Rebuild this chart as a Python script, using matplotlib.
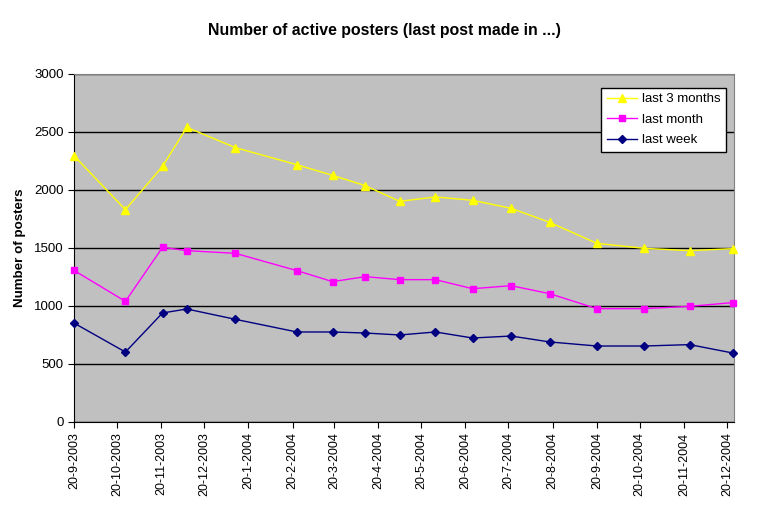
import datetime as dt
import matplotlib
matplotlib.use("Agg")
import matplotlib.pyplot as plt

plt.rcParams['font.family'] = ['Liberation Sans', 'DejaVu Sans']

# dates of the samples
dates = ["2003-09-20", "2003-10-26", "2003-11-21", "2003-12-08", "2004-01-11",
         "2004-02-23", "2004-03-19", "2004-04-11", "2004-05-05", "2004-05-30",
         "2004-06-25", "2004-07-22", "2004-08-18", "2004-09-20", "2004-10-23",
         "2004-11-24", "2004-12-24"]
last_3_months = [2296, 1830, 2204, 2540, 2365, 2218, 2126, 2037, 1902, 1940,
                 1911, 1842, 1721, 1540, 1497, 1477, 1494]
last_month = [1307, 1040, 1506, 1477, 1454, 1305, 1210, 1253, 1227, 1227,
              1149, 1175, 1106, 977, 977, 997, 1029]
last_week = [853, 603, 940, 974, 885, 776, 776, 767, 750, 776,
             724, 741, 690, 655, 655, 667, 595]

tick_dates = [dt.date(2003, m, 20) for m in range(9, 13)] + \
             [dt.date(2004, m, 20) for m in range(1, 13)]
y_ticks = [0, 500, 1000, 1500, 2000, 2500, 3000]

x = [dt.datetime.strptime(d, "%Y-%m-%d") for d in dates]

fig = plt.figure(figsize=(7.69, 5.12), dpi=100)
ax = fig.add_axes([0.0962, 0.1758, 0.8583, 0.6797])
ax.set_facecolor('#C0C0C0')

ax.plot(x, last_3_months, color='#FFFF00', marker='^', markersize=5.5, lw=1,
        label='last 3 months', clip_on=False, zorder=3)
ax.plot(x, last_month, color='#FF00FF', marker='s', markersize=5, lw=1,
        label='last month', clip_on=False, zorder=3)
ax.plot(x, last_week, color='#000080', marker='D', markersize=3.8, lw=1,
        label='last week', clip_on=False, zorder=3)

ax.set_ylim(0, 3000)
ax.set_yticks(y_ticks)
ax.yaxis.grid(True, color='black', lw=1)
ax.set_axisbelow(True)
ax.set_xlim(dt.datetime(2003, 9, 20), dt.datetime(2004, 12, 25))
ax.set_xticks(tick_dates)
ax.set_xticklabels(["%d-%d-%d" % (d.day, d.month, d.year) for d in tick_dates], rotation=90)
ax.tick_params(axis='x', labelsize=9, length=4, direction='out')
ax.tick_params(axis='y', labelsize=9.5, length=4, direction='out')

for s in ['top', 'right']:
    ax.spines[s].set_color('#808080')
    ax.spines[s].set_linewidth(0.8)
for s in ['left', 'bottom']:
    ax.spines[s].set_color('black')

ax.set_ylabel('Number of posters', fontsize=9.6, fontweight='bold', labelpad=6)
fig.suptitle('Number of active posters (last post made in ...)', fontsize=11.4,
             fontweight='bold', x=0.5, y=0.956)

leg = ax.legend(loc='upper right', bbox_to_anchor=(0.988, 0.960), fontsize=9.5,
                fancybox=False, framealpha=1, edgecolor='black', borderpad=0.4,
                borderaxespad=0, handlelength=2.3, labelspacing=0.62, handletextpad=0.4)
leg.get_frame().set_facecolor('white')

fig.savefig('out.png', dpi=100)
